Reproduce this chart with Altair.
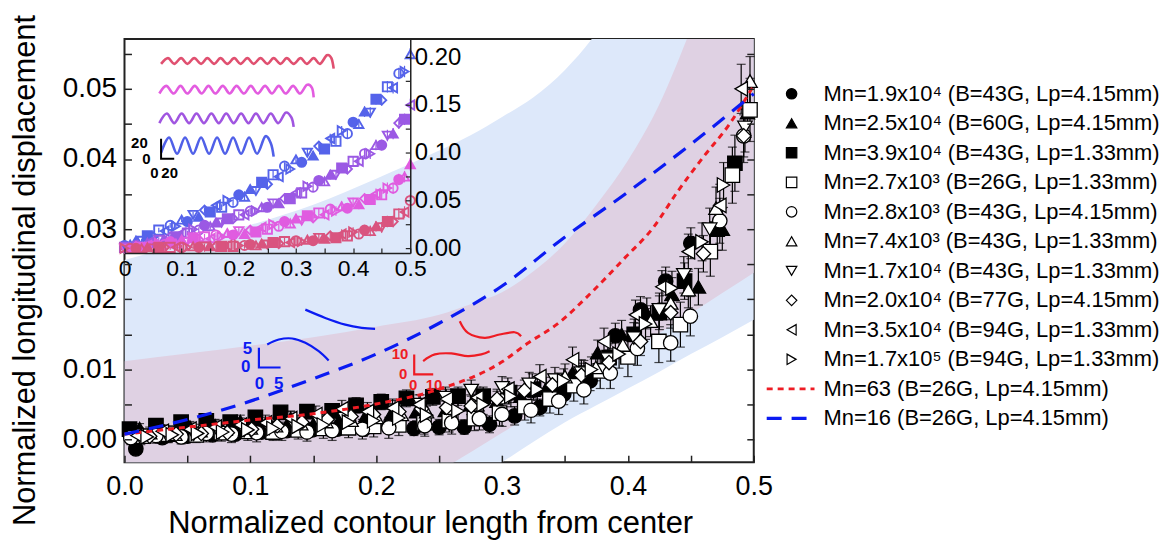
import altair as alt
import pandas as pd

FONT = "Liberation Sans"
RED = "#ee1c24"
BLUE = "#0b1bf2"
W, H = 632, 425
IW, IH = 287, 215

# ---------------- axes / ticks ----------------
x_tick_values = [0.0, 0.1, 0.2, 0.3, 0.4, 0.5]
y_tick_values = [0.00, 0.01, 0.02, 0.03, 0.04, 0.05]
x_minor_ticks = [0.0, 0.05, 0.1, 0.15, 0.2, 0.25, 0.3, 0.35, 0.4, 0.45, 0.5]
y_minor_ticks = [0.0, 0.005, 0.01, 0.015, 0.02, 0.025, 0.03, 0.035, 0.04, 0.045, 0.05, 0.055]
inset_x_ticks = [0.0, 0.1, 0.2, 0.3, 0.4, 0.5]
inset_x_minor = [0.0, 0.05, 0.1, 0.15, 0.2, 0.25, 0.3, 0.35, 0.4, 0.45, 0.5]
inset_y_ticks = [0.00, 0.05, 0.10, 0.15, 0.20]
inset_y_minor = [0.0, 0.025, 0.05, 0.075, 0.1, 0.125, 0.15, 0.175, 0.2]
X_DOMAIN = [0.0, 0.5]
Y_DOMAIN = [-0.0032, 0.0571]
INSET_X_DOMAIN = [0.0, 0.5]
INSET_Y_DOMAIN = [-0.005, 0.219]

# ---------------- series ----------------
series_labels = [
    "Mn=1.9x10\u2074 (B=43G, Lp=4.15mm)",
    "Mn=2.5x10\u2074 (B=60G, Lp=4.15mm)",
    "Mn=3.9x10\u2074 (B=43G, Lp=1.33mm)",
    "Mn=2.7x10\u00b3 (B=26G, Lp=1.33mm)",
    "Mn=2.8x10\u00b3 (B=43G, Lp=4.15mm)",
    "Mn=7.4x10\u00b3 (B=43G, Lp=1.33mm)",
    "Mn=1.7x10\u2074 (B=43G, Lp=1.33mm)",
    "Mn=2.0x10\u2074 (B=77G, Lp=4.15mm)",
    "Mn=3.5x10\u2074 (B=94G, Lp=1.33mm)",
    "Mn=1.7x10\u2075 (B=94G, Lp=1.33mm)",
]
line_labels = ["Mn=63 (B=26G, Lp=4.15mm)", "Mn=16 (B=26G, Lp=4.15mm)"]
series_shapes = ["circle", "triangle-up", "square", "square", "circle", "triangle-up",
                 "triangle-down", "diamond", "triangle-left", "triangle-right"]
series_filled = [True, True, True, False, False, False, False, False, False, False]

s1_x = [0.009, 0.030, 0.050, 0.070, 0.088, 0.109, 0.129, 0.149, 0.169, 0.190, 0.210, 0.230, 0.250, 0.270, 0.290, 0.310, 0.330, 0.349, 0.370, 0.390, 0.410, 0.430, 0.450]
s1_y = [-0.0013, 0.0003, 0.0005, 0.0007, 0.0008, 0.0011, 0.0013, 0.0014, 0.0015, 0.0015, 0.0018, 0.0016, 0.0018, 0.0018, 0.0022, 0.0034, 0.0046, 0.0065, 0.0084, 0.0148, 0.0185, 0.0226, 0.0280]
s1_e = [0.0006, 0.0006, 0.0007, 0.0008, 0.0006, 0.0008, 0.0007, 0.0009, 0.0008, 0.0010, 0.0009, 0.0010, 0.0011, 0.0010, 0.0012, 0.0013, 0.0012, 0.0015, 0.0014, 0.0018, 0.0019, 0.0020, 0.0022]

s2_x = [0.012, 0.032, 0.052, 0.072, 0.092, 0.112, 0.132, 0.152, 0.172, 0.192, 0.212, 0.232, 0.255, 0.275, 0.296, 0.315, 0.335, 0.356, 0.376, 0.395, 0.415, 0.435, 0.456, 0.475, 0.495]
s2_y = [0.0016, 0.0012, 0.0018, 0.0020, 0.0026, 0.0022, 0.0030, 0.0028, 0.0032, 0.0035, 0.0037, 0.0040, 0.0042, 0.0050, 0.0055, 0.0062, 0.0073, 0.0095, 0.0124, 0.0150, 0.0180, 0.0207, 0.0218, 0.0300, 0.0466]
s2_e = [0.0007, 0.0008, 0.0008, 0.0009, 0.0009, 0.0010, 0.0010, 0.0011, 0.0011, 0.0012, 0.0012, 0.0013, 0.0013, 0.0014, 0.0014, 0.0015, 0.0016, 0.0017, 0.0018, 0.0020, 0.0022, 0.0024, 0.0026, 0.0030, 0.0035]

s3_x = [0.004, 0.025, 0.045, 0.065, 0.084, 0.104, 0.124, 0.145, 0.165, 0.184, 0.204, 0.224, 0.245, 0.265, 0.285, 0.306, 0.325, 0.345, 0.365, 0.385, 0.405, 0.425, 0.445, 0.471, 0.485]
s3_y = [0.0015, 0.0020, 0.0025, 0.0027, 0.0025, 0.0032, 0.0039, 0.0040, 0.0041, 0.0049, 0.0054, 0.0059, 0.0061, 0.0062, 0.0062, 0.0067, 0.0072, 0.0079, 0.0095, 0.0117, 0.0150, 0.0181, 0.0226, 0.0300, 0.0394]
s3_e = [0.0006, 0.0007, 0.0007, 0.0008, 0.0008, 0.0009, 0.0009, 0.0010, 0.0010, 0.0011, 0.0011, 0.0012, 0.0012, 0.0013, 0.0013, 0.0014, 0.0015, 0.0016, 0.0018, 0.0020, 0.0022, 0.0024, 0.0026, 0.0030, 0.0040]

s4_x = [0.015, 0.035, 0.057, 0.077, 0.098, 0.118, 0.138, 0.158, 0.178, 0.198, 0.218, 0.238, 0.258, 0.278, 0.298, 0.318, 0.338, 0.357, 0.378, 0.400, 0.4246, 0.4417, 0.4655, 0.483, 0.497]
s4_y = [0.0005, 0.0008, 0.0007, 0.0010, 0.0012, 0.0011, 0.0014, 0.0016, 0.0017, 0.0019, 0.0021, 0.0024, 0.0027, 0.0030, 0.0038, 0.0047, 0.0058, 0.0077, 0.0098, 0.0118, 0.0140, 0.0164, 0.0268, 0.0377, 0.0470]
s4_e = [0.0010, 0.0012, 0.0011, 0.0012, 0.0013, 0.0012, 0.0013, 0.0014, 0.0014, 0.0015, 0.0015, 0.0016, 0.0016, 0.0017, 0.0018, 0.0019, 0.0020, 0.0022, 0.0025, 0.0028, 0.0030, 0.0032, 0.0035, 0.0040, 0.0045]

s5_x = [0.005, 0.025, 0.045, 0.065, 0.085, 0.105, 0.125, 0.145, 0.165, 0.189, 0.210, 0.2386, 0.260, 0.282, 0.300, 0.323, 0.345, 0.365, 0.386, 0.4075, 0.434, 0.4496, 0.473, 0.492]
s5_y = [0.0003, 0.0006, 0.0004, 0.0009, 0.0008, 0.0010, 0.0012, 0.0011, 0.0013, 0.0015, 0.0017, 0.0020, 0.0024, 0.0030, 0.0036, 0.0042, 0.0055, 0.0071, 0.0095, 0.0130, 0.0138, 0.0176, 0.0312, 0.0433]
s5_e = [0.0010, 0.0011, 0.0010, 0.0012, 0.0012, 0.0013, 0.0013, 0.0013, 0.0014, 0.0014, 0.0015, 0.0015, 0.0016, 0.0016, 0.0017, 0.0018, 0.0019, 0.0020, 0.0022, 0.0024, 0.0026, 0.0028, 0.0032, 0.0038]

s6_x = [0.020, 0.040, 0.060, 0.080, 0.100, 0.120, 0.140, 0.160, 0.180, 0.200, 0.220, 0.240, 0.260, 0.280, 0.300, 0.324, 0.350, 0.3745, 0.396, 0.418, 0.434, 0.448, 0.470, 0.497]
s6_y = [0.0010, 0.0008, 0.0013, 0.0015, 0.0017, 0.0020, 0.0023, 0.0026, 0.0028, 0.0032, 0.0036, 0.0040, 0.0045, 0.0050, 0.0060, 0.0077, 0.0090, 0.0103, 0.0135, 0.0169, 0.0195, 0.0214, 0.0330, 0.0511]
s6_e = [0.0008, 0.0009, 0.0009, 0.0010, 0.0010, 0.0011, 0.0011, 0.0012, 0.0012, 0.0013, 0.0013, 0.0014, 0.0014, 0.0015, 0.0016, 0.0017, 0.0018, 0.0019, 0.0020, 0.0022, 0.0024, 0.0026, 0.0030, 0.0035]

s7_x = [0.013, 0.034, 0.055, 0.075, 0.095, 0.115, 0.135, 0.155, 0.175, 0.195, 0.215, 0.235, 0.255, 0.2755, 0.300, 0.3216, 0.342, 0.363, 0.384, 0.4047, 0.425, 0.4444, 0.465, 0.493]
s7_y = [0.0002, 0.0005, 0.0008, 0.0010, 0.0013, 0.0016, 0.0020, 0.0024, 0.0030, 0.0035, 0.0042, 0.0050, 0.0060, 0.0070, 0.0074, 0.0079, 0.0085, 0.0095, 0.0115, 0.0145, 0.0185, 0.0235, 0.0300, 0.0445]
s7_e = [0.0009, 0.0009, 0.0010, 0.0010, 0.0011, 0.0011, 0.0012, 0.0012, 0.0013, 0.0013, 0.0014, 0.0014, 0.0015, 0.0015, 0.0016, 0.0017, 0.0018, 0.0019, 0.0020, 0.0022, 0.0024, 0.0026, 0.0030, 0.0035]

s8_x = [0.020, 0.041, 0.061, 0.0817, 0.101, 0.1213, 0.141, 0.161, 0.180, 0.1978, 0.218, 0.236, 0.256, 0.2755, 0.296, 0.3177, 0.340, 0.363, 0.385, 0.410, 0.434, 0.460, 0.492]
s8_y = [0.0005, 0.0008, 0.0009, 0.0010, 0.0015, 0.0020, 0.0025, 0.0029, 0.0033, 0.0036, 0.0040, 0.0044, 0.0046, 0.0048, 0.0058, 0.0070, 0.0078, 0.0092, 0.0110, 0.0140, 0.0181, 0.0265, 0.0433]
s8_e = [0.0007, 0.0008, 0.0008, 0.0009, 0.0009, 0.0010, 0.0010, 0.0011, 0.0011, 0.0012, 0.0012, 0.0013, 0.0013, 0.0014, 0.0014, 0.0015, 0.0016, 0.0017, 0.0018, 0.0020, 0.0022, 0.0026, 0.0030]

s9_x = [0.010, 0.030, 0.052, 0.072, 0.092, 0.112, 0.132, 0.152, 0.1727, 0.193, 0.213, 0.234, 0.2557, 0.280, 0.3046, 0.330, 0.356, 0.381, 0.406, 0.427, 0.448, 0.473, 0.490]
s9_y = [0.0006, 0.0012, 0.0015, 0.0018, 0.0021, 0.0024, 0.0030, 0.0036, 0.0044, 0.0040, 0.0045, 0.0050, 0.0058, 0.0060, 0.0072, 0.0090, 0.0114, 0.0140, 0.0178, 0.0218, 0.0268, 0.0334, 0.0500]
s9_e = [0.0008, 0.0009, 0.0009, 0.0010, 0.0010, 0.0011, 0.0011, 0.0012, 0.0012, 0.0013, 0.0013, 0.0014, 0.0014, 0.0015, 0.0016, 0.0017, 0.0018, 0.0019, 0.0021, 0.0023, 0.0025, 0.0030, 0.0035]

s10_x = [0.018, 0.038, 0.058, 0.078, 0.098, 0.118, 0.138, 0.158, 0.178, 0.198, 0.218, 0.240, 0.265, 0.285, 0.307, 0.328, 0.349, 0.371, 0.393, 0.414, 0.435, 0.4589, 0.476]
s10_y = [0.0004, 0.0007, 0.0009, 0.0011, 0.0014, 0.0016, 0.0019, 0.0021, 0.0025, 0.0027, 0.0031, 0.0035, 0.0041, 0.0050, 0.0062, 0.0072, 0.0084, 0.0100, 0.0122, 0.0165, 0.0216, 0.0282, 0.0363]
s10_e = [0.0007, 0.0008, 0.0008, 0.0009, 0.0009, 0.0010, 0.0010, 0.0011, 0.0011, 0.0012, 0.0012, 0.0013, 0.0013, 0.0014, 0.0015, 0.0016, 0.0017, 0.0018, 0.0020, 0.0022, 0.0024, 0.0027, 0.0032]

# theory curves
mn63_x = [0.0, 0.05, 0.1, 0.15, 0.2, 0.25, 0.3, 0.32, 0.344, 0.37, 0.397, 0.42, 0.44, 0.46, 0.48, 0.5]
mn63_y = [0.0008, 0.0018, 0.0028, 0.0037, 0.0051, 0.0072, 0.0111, 0.0137, 0.0165, 0.0208, 0.0258, 0.0302, 0.0355, 0.0403, 0.0448, 0.0505]
mn16_x = [0.0, 0.03, 0.075, 0.1, 0.15, 0.2, 0.25, 0.3, 0.35, 0.4, 0.45, 0.5]
mn16_y = [0.0008, 0.0020, 0.0041, 0.0055, 0.0087, 0.0122, 0.0166, 0.0219, 0.0289, 0.0353, 0.0421, 0.0493]

# shaded bands
band_x = [0.0, 0.05, 0.1, 0.15, 0.2, 0.25, 0.275, 0.3, 0.325, 0.35, 0.375, 0.4, 0.425, 0.45, 0.475, 0.5]
blue_upper = [0.0256, 0.0281, 0.0306, 0.0335, 0.0372, 0.0412, 0.0434, 0.0460, 0.0488, 0.0527, 0.0580, 0.065, 0.073, 0.082, 0.092, 0.100]
blue_lower = [-0.035, -0.030, -0.025, -0.020, -0.015, -0.009, -0.006, -0.0032, -0.0003, 0.0025, 0.0049, 0.0073, 0.0097, 0.0122, 0.0146, 0.0171]
pink_upper = [0.0112, 0.0123, 0.0134, 0.0146, 0.0161, 0.0178, 0.0193, 0.0210, 0.0240, 0.0280, 0.0335, 0.0398, 0.0478, 0.0585, 0.070, 0.085]
pink_lower = [-0.030, -0.026, -0.021, -0.016, -0.010, -0.0045, -0.0018, 0.0010, 0.0037, 0.0065, 0.0094, 0.0123, 0.0152, 0.0180, 0.0209, 0.0238]

# conformation sketches in the main panel
blueA_x = [0.1437, 0.1595, 0.1754, 0.1885, 0.1991]
blueA_y = [0.01854, 0.01736, 0.01641, 0.01594, 0.01580]
blueB_x = [0.1134, 0.1226, 0.1332, 0.1437, 0.1543, 0.1622]
blueB_y = [0.01357, 0.01428, 0.01443, 0.01382, 0.01262, 0.01130]
redA_x = [0.2664, 0.2729, 0.2861, 0.2980, 0.3099, 0.3151]
redA_y = [0.01688, 0.01523, 0.01452, 0.01499, 0.01532, 0.01475]
redB_x = [0.2373, 0.2466, 0.2597, 0.2729, 0.2835, 0.2901]
redB_y = [0.01121, 0.01216, 0.01230, 0.01191, 0.01216, 0.01262]
bluebar_x = [0.1068, 0.1068, 0.1240]
bluebar_y = [0.01312, 0.01029, 0.01029]
redbar_x = [0.2302, 0.2302, 0.2453]
redbar_y = [0.01216, 0.00932, 0.00932]
ann_text = ["5", "0", "0", "5", "10", "0", "0", "10"]
ann_x = [0.0976, 0.0963, 0.1073, 0.1226, 0.2189, 0.2215, 0.2294, 0.2460]
ann_y = [0.01287, 0.0104, 0.0080, 0.0080, 0.01216, 0.00932, 0.00776, 0.00776]
ann_col = [BLUE, BLUE, BLUE, BLUE, RED, RED, RED, RED]

# ---------------- inset data ----------------
inset_colors = ["#5563ea", "#9b59e4", "#e05ce0", "#d9547f"]
inset_xa = [0.00, 0.02, 0.04, 0.06, 0.08, 0.10, 0.12, 0.14, 0.16, 0.18, 0.20, 0.22, 0.24, 0.26, 0.28, 0.30, 0.32, 0.34, 0.36, 0.38, 0.40, 0.42, 0.44, 0.46, 0.48, 0.50]
inset_xb = [0.01, 0.03, 0.05, 0.07, 0.09, 0.11, 0.13, 0.15, 0.17, 0.19, 0.21, 0.23, 0.25, 0.27, 0.29, 0.31, 0.33, 0.35, 0.37, 0.39, 0.41, 0.43, 0.45, 0.47, 0.49]
blue_a = [0.003, 0.008, 0.013, 0.019, 0.024, 0.030, 0.035, 0.040, 0.045, 0.050, 0.056, 0.062, 0.069, 0.077, 0.086, 0.093, 0.100, 0.107, 0.115, 0.123, 0.132, 0.143, 0.156, 0.169, 0.183, 0.203]
blue_b = [0.004, 0.008, 0.012, 0.018, 0.023, 0.028, 0.033, 0.038, 0.043, 0.048, 0.054, 0.060, 0.067, 0.075, 0.083, 0.090, 0.097, 0.104, 0.112, 0.120, 0.130, 0.142, 0.155, 0.168, 0.185]
purple_a = [0.001, 0.003, 0.006, 0.009, 0.012, 0.016, 0.020, 0.024, 0.027, 0.031, 0.035, 0.039, 0.043, 0.047, 0.052, 0.058, 0.065, 0.071, 0.077, 0.084, 0.091, 0.099, 0.108, 0.118, 0.131, 0.150]
purple_b = [0.001, 0.003, 0.006, 0.009, 0.012, 0.016, 0.019, 0.023, 0.027, 0.031, 0.035, 0.039, 0.043, 0.047, 0.052, 0.058, 0.064, 0.070, 0.077, 0.083, 0.091, 0.099, 0.108, 0.120, 0.135]
magenta_a = [0.000, 0.002, 0.003, 0.005, 0.007, 0.009, 0.011, 0.012, 0.014, 0.016, 0.018, 0.019, 0.022, 0.025, 0.028, 0.031, 0.034, 0.037, 0.041, 0.044, 0.048, 0.052, 0.057, 0.063, 0.072, 0.088]
magenta_b = [0.000, 0.001, 0.002, 0.004, 0.005, 0.007, 0.009, 0.010, 0.012, 0.014, 0.015, 0.017, 0.020, 0.023, 0.026, 0.029, 0.032, 0.035, 0.039, 0.042, 0.046, 0.051, 0.056, 0.063, 0.075]
rose_a = [0.000, 0.000, 0.001, 0.001, 0.001, 0.001, 0.002, 0.002, 0.002, 0.003, 0.003, 0.004, 0.005, 0.006, 0.007, 0.008, 0.009, 0.011, 0.013, 0.015, 0.017, 0.019, 0.023, 0.028, 0.036, 0.050]
rose_b = [0.000, 0.000, 0.000, 0.001, 0.001, 0.001, 0.001, 0.002, 0.002, 0.002, 0.003, 0.003, 0.004, 0.005, 0.006, 0.007, 0.008, 0.010, 0.011, 0.013, 0.015, 0.018, 0.022, 0.028, 0.038]
inset_err = [0.003, 0.004, 0.004, 0.005, 0.005, 0.005, 0.006, 0.006, 0.006, 0.007, 0.007, 0.007, 0.008, 0.008, 0.008, 0.009, 0.009, 0.009, 0.010, 0.010, 0.010, 0.011, 0.011, 0.012, 0.012, 0.013]

snake_blue_x = [0.064, 0.078, 0.092, 0.106, 0.120, 0.134, 0.148, 0.162, 0.176, 0.190, 0.204, 0.218, 0.232, 0.246, 0.256, 0.261]
snake_blue_y = [0.100, 0.116, 0.099, 0.116, 0.099, 0.116, 0.099, 0.116, 0.099, 0.116, 0.099, 0.116, 0.099, 0.117, 0.110, 0.096]
snake_purple_x = [0.061, 0.074, 0.087, 0.100, 0.113, 0.126, 0.139, 0.152, 0.165, 0.178, 0.191, 0.204, 0.217, 0.230, 0.243, 0.256, 0.269, 0.282, 0.292, 0.296]
snake_purple_y = [0.131, 0.141, 0.131, 0.141, 0.131, 0.141, 0.131, 0.141, 0.131, 0.141, 0.131, 0.141, 0.131, 0.141, 0.131, 0.141, 0.131, 0.142, 0.137, 0.127]
snake_magenta_x = [0.061, 0.073, 0.086, 0.098, 0.110, 0.123, 0.135, 0.147, 0.159, 0.172, 0.184, 0.196, 0.209, 0.221, 0.233, 0.246, 0.258, 0.270, 0.282, 0.295, 0.307, 0.319, 0.328, 0.331]
snake_magenta_y = [0.162, 0.170, 0.162, 0.170, 0.162, 0.170, 0.162, 0.170, 0.162, 0.170, 0.162, 0.170, 0.162, 0.170, 0.162, 0.170, 0.162, 0.170, 0.162, 0.170, 0.162, 0.171, 0.168, 0.158]
snake_rose_x = [0.064, 0.076, 0.087, 0.099, 0.110, 0.122, 0.134, 0.145, 0.157, 0.168, 0.180, 0.192, 0.203, 0.215, 0.226, 0.238, 0.250, 0.261, 0.273, 0.284, 0.296, 0.308, 0.319, 0.331, 0.342, 0.354, 0.362, 0.366]
snake_rose_y = [0.193, 0.199, 0.193, 0.199, 0.193, 0.199, 0.193, 0.199, 0.193, 0.199, 0.193, 0.199, 0.193, 0.199, 0.193, 0.199, 0.193, 0.199, 0.193, 0.199, 0.193, 0.199, 0.193, 0.199, 0.193, 0.202, 0.199, 0.188]
snake_colors = ["#5060e8", "#a055e0", "#e35ce0", "#e05070"]
inset_bar_x = [0.064, 0.064, 0.087]
inset_bar_y = [0.1146, 0.0938, 0.0938]
inset_text = ["20", "0", "0", "20"]
inset_text_x = [0.0261, 0.0383, 0.0523, 0.0790]
inset_text_y = [0.1107, 0.0938, 0.0786, 0.0786]

legend_rows = [0, 1, 2, 3, 4, 5, 6, 7, 8, 9, 10, 11]

# ---------------- build tables ----------------
def check(*arrs):
    n = len(arrs[0])
    for a in arrs:
        if len(a) != n:
            raise ValueError(f"length mismatch {[len(b) for b in arrs]}")

sx = [s1_x, s2_x, s3_x, s4_x, s5_x, s6_x, s7_x, s8_x, s9_x, s10_x]
sy = [s1_y, s2_y, s3_y, s4_y, s5_y, s6_y, s7_y, s8_y, s9_y, s10_y]
se = [s1_e, s2_e, s3_e, s4_e, s5_e, s6_e, s7_e, s8_e, s9_e, s10_e]
frames = []
for i in range(10):
    check(sx[i], sy[i], se[i])
    frames.append(pd.DataFrame({
        "x": sx[i], "y": sy[i], "e": se[i],
        "series": series_labels[i], "shape": series_shapes[i],
        "fillc": "black" if series_filled[i] else "white",
    }))
main_df = pd.concat(frames, ignore_index=True)
main_df["lo"] = main_df["y"] - main_df["e"]
main_df["hi"] = main_df["y"] + main_df["e"]

check(band_x, blue_upper, blue_lower, pink_upper, pink_lower)
band_df = pd.DataFrame({"x": band_x, "bu": blue_upper, "bl": blue_lower, "pu": pink_upper, "pl": pink_lower})
check(mn63_x, mn63_y); check(mn16_x, mn16_y)
l63_df = pd.DataFrame({"x": mn63_x, "y": mn63_y})
l16_df = pd.DataFrame({"x": mn16_x, "y": mn16_y})

def path_frame(items):
    fr = []
    for name, col, xs_, ys_ in items:
        check(xs_, ys_)
        fr.append(pd.DataFrame({"x": xs_, "y": ys_, "grp": name, "col": col, "i": list(range(len(xs_)))}))
    return pd.concat(fr, ignore_index=True)

curves_df = path_frame([("bA", BLUE, blueA_x, blueA_y), ("bB", BLUE, blueB_x, blueB_y),
                        ("rA", RED, redA_x, redA_y), ("rB", RED, redB_x, redB_y)])
bars_df = path_frame([("bS", BLUE, bluebar_x, bluebar_y), ("rS", RED, redbar_x, redbar_y)])
check(ann_text, ann_x, ann_y, ann_col)
ann_df = pd.DataFrame({"t": ann_text, "x": ann_x, "y": ann_y, "col": ann_col,
                       "fs": [17 if c == BLUE else 15 for c in ann_col]})

ins_fr = []
for k, (ya, yb) in enumerate([(blue_a, blue_b), (purple_a, purple_b), (magenta_a, magenta_b), (rose_a, rose_b)]):
    check(inset_xa, ya, inset_err); check(inset_xb, yb)
    for m, (xs_, ys_) in enumerate([(inset_xa, ya), (inset_xb, yb)]):
        shp = [series_shapes[(j + 3 * k + 5 * m) % 10] for j in range(len(xs_))]
        fil = [inset_colors[k] if series_filled[(j + 3 * k + 5 * m) % 10] else "transparent" for j in range(len(xs_))]
        ins_fr.append(pd.DataFrame({"x": xs_, "y": ys_, "e": inset_err[:len(xs_)], "col": inset_colors[k],
                                    "shape": shp, "fillc": fil}))
inset_df = pd.concat(ins_fr, ignore_index=True)
inset_df["lo"] = inset_df["y"] - inset_df["e"] * 0.5
inset_df["hi"] = inset_df["y"] + inset_df["e"] * 0.5
snakes_df = path_frame([("s0", snake_colors[0], snake_blue_x, snake_blue_y),
                        ("s1", snake_colors[1], snake_purple_x, snake_purple_y),
                        ("s2", snake_colors[2], snake_magenta_x, snake_magenta_y),
                        ("s3", snake_colors[3], snake_rose_x, snake_rose_y)])
ibar_df = path_frame([("ib", "black", inset_bar_x, inset_bar_y)])
check(inset_text, inset_text_x, inset_text_y)
itext_df = pd.DataFrame({"t": inset_text, "x": inset_text_x, "y": inset_text_y})

leg_df = pd.DataFrame({"row": legend_rows[:10], "label": series_labels, "shape": series_shapes,
                       "fillc": ["black" if f else "white" for f in series_filled]})
legtxt_df = pd.DataFrame({"row": legend_rows, "label": series_labels + line_labels})

# ---------------- main panel ----------------
xs = alt.Scale(domain=X_DOMAIN, nice=False, zero=False)
ys = alt.Scale(domain=Y_DOMAIN, nice=False, zero=False)
x_axis = alt.Axis(values=x_tick_values, format=".1f", labelFontSize=27, title="Normalized contour length from center",
                  titleFontSize=31, ticks=False, tickSize=0, domain=False, grid=False, labelPadding=11,
                  labelFlush=False, labelOverlap=False, titleX=307, titleY=71, titleBaseline="alphabetic",
                  titleAlign="center", titleAnchor="start")
y_axis = alt.Axis(values=y_tick_values, format=".2f", labelFontSize=28, title="Normalized longitudinal displacement",
                  titleFontSize=31, ticks=False, tickSize=0, domain=False, grid=False, labelPadding=8,
                  labelFlush=False, labelOverlap=False, titleX=-83, titleY=232, titleBaseline="bottom",
                  titleAlign="center", titleAngle=-90)

def MX(f):
    return alt.X(f, type="quantitative", scale=xs, axis=x_axis)

def MY(f):
    return alt.Y(f, type="quantitative", scale=ys, axis=y_axis)

blue_band = alt.Chart(band_df).mark_area(color="#dde8fa", clip=True, interpolate="monotone").encode(
    x=MX("x"), y=MY("bl"), y2="bu")
pink_band = alt.Chart(band_df).mark_area(color="#dfd1e3", clip=True, interpolate="monotone").encode(
    x=MX("x"), y=MY("pl"), y2="pu")
err = alt.Chart(main_df).mark_rule(color="black", strokeWidth=1.2).encode(x=MX("x"), y=MY("lo"), y2="hi")
cap_lo = alt.Chart(main_df).mark_tick(orient="horizontal", size=9, thickness=1.2, color="black").encode(x=MX("x"), y=MY("lo"))
cap_hi = alt.Chart(main_df).mark_tick(orient="horizontal", size=9, thickness=1.2, color="black").encode(x=MX("x"), y=MY("hi"))
pts = alt.Chart(main_df).mark_point(filled=True, size=210, stroke="black", strokeWidth=1.3, opacity=1).encode(
    x=MX("x"), y=MY("y"), shape=alt.Shape("shape:N", scale=None), fill=alt.Fill("fillc:N", scale=None))
line63 = alt.Chart(l63_df).mark_line(color=RED, strokeWidth=3, strokeDash=[6, 5], interpolate="monotone").encode(
    x=MX("x"), y=MY("y"))
line16 = alt.Chart(l16_df).mark_line(color=BLUE, strokeWidth=3.2, strokeDash=[15, 10], interpolate="monotone").encode(
    x=MX("x"), y=MY("y"))
curves = alt.Chart(curves_df).mark_line(strokeWidth=2.2, interpolate="cardinal").encode(
    x=MX("x"), y=MY("y"), detail="grp:N", color=alt.Color("col:N", scale=None), order="i:Q")
bars = alt.Chart(bars_df).mark_line(strokeWidth=2.2).encode(
    x=MX("x"), y=MY("y"), detail="grp:N", color=alt.Color("col:N", scale=None), order="i:Q")
ann = alt.Chart(ann_df).mark_text(font=FONT, fontWeight="bold", baseline="middle", align="center").encode(
    x=MX("x"), y=MY("y"), text="t:N", color=alt.Color("col:N", scale=None), size=alt.Size("fs:Q", scale=None))

main = alt.layer(blue_band, pink_band, err, cap_lo, cap_hi, pts, line63, line16, curves, bars, ann)

# inward ticks of the main frame
tick_df = pd.DataFrame({"x": [0.25], "y": [0.02]})
ticks_lb = alt.Chart(tick_df).mark_point(opacity=0).encode(
    x=alt.X("x:Q", scale=alt.Scale(domain=X_DOMAIN, nice=False, zero=False),
            axis=alt.Axis(orient="top", offset=-H, values=x_minor_ticks, labels=False, domain=False, grid=False,
                          tickSize=7, tickWidth=1.5, tickColor="#222", title=None, zindex=2)),
    y=alt.Y("y:Q", scale=alt.Scale(domain=Y_DOMAIN, nice=False, zero=False),
            axis=alt.Axis(orient="right", offset=-W, values=y_minor_ticks, labels=False, domain=False, grid=False,
                          tickSize=7, tickWidth=1.5, tickColor="#222", title=None, zindex=2)))
ticks_r = alt.Chart(tick_df).mark_point(opacity=0).encode(
    y=alt.Y("y:Q", scale=alt.Scale(domain=Y_DOMAIN, nice=False, zero=False),
            axis=alt.Axis(orient="left", offset=-W, values=y_minor_ticks, labels=False, domain=False, grid=False,
                          tickSize=7, tickWidth=1.5, tickColor="#222", title=None, zindex=2)))

# ---------------- inset ----------------
isx = alt.Scale(domain=INSET_X_DOMAIN, range=[0, IW], nice=False, zero=False)
isy = alt.Scale(domain=INSET_Y_DOMAIN, range=[IH, 0], nice=False, zero=False)
ix_axis = alt.Axis(orient="bottom", offset=-(H - IH), values=inset_x_ticks,
                   labelExpr="datum.value == 0 ? '0' : format(datum.value, '.1f')",
                   labelFontSize=23, ticks=False, tickSize=0, domainColor="#222", domainWidth=1.5, grid=False,
                   title=None, labelPadding=5, labelFlush=False, labelOverlap=False, zindex=2)
iy_axis = alt.Axis(orient="right", offset=-(W - IW), values=inset_y_ticks, format=".2f", labelFontSize=24,
                   ticks=False, tickSize=0, domainColor="#222", domainWidth=1.5, grid=False, title=None,
                   labelPadding=4, labelFlush=False, labelOverlap=False, zindex=2)

def IX(f):
    return alt.X(f, type="quantitative", scale=isx, axis=ix_axis)

def IY(f):
    return alt.Y(f, type="quantitative", scale=isy, axis=iy_axis)

ierr = alt.Chart(inset_df).mark_rule(strokeWidth=1.2).encode(
    x=IX("x"), y=IY("lo"), y2="hi", color=alt.Color("col:N", scale=None))
ipts = alt.Chart(inset_df).mark_point(filled=True, size=85, strokeWidth=1.9, opacity=1).encode(
    x=IX("x"), y=IY("y"), shape=alt.Shape("shape:N", scale=None),
    stroke=alt.Stroke("col:N", scale=None), fill=alt.Fill("fillc:N", scale=None))
isnakes = alt.Chart(snakes_df).mark_line(strokeWidth=2.6, interpolate="cardinal").encode(
    x=IX("x"), y=IY("y"), detail="grp:N", color=alt.Color("col:N", scale=None), order="i:Q")
ibar = alt.Chart(ibar_df).mark_line(strokeWidth=2, color="black").encode(x=IX("x"), y=IY("y"), order="i:Q")
itext = alt.Chart(itext_df).mark_text(font=FONT, fontWeight="bold", fontSize=15, color="black",
                                      baseline="middle", align="center").encode(x=IX("x"), y=IY("y"), text="t:N")
inset = alt.layer(ierr, ipts, isnakes, ibar, itext)

iticks = alt.Chart(pd.DataFrame({"x": [0.25], "y": [0.1]})).mark_point(opacity=0).encode(
    x=alt.X("x:Q", scale=alt.Scale(domain=INSET_X_DOMAIN, range=[0, IW], nice=False, zero=False),
            axis=alt.Axis(orient="top", offset=-IH, values=inset_x_minor, labels=False, domain=False, grid=False,
                          tickSize=5, tickWidth=1.2, tickColor="#222", title=None, zindex=2)),
    y=alt.Y("y:Q", scale=alt.Scale(domain=INSET_Y_DOMAIN, range=[IH, 0], nice=False, zero=False),
            axis=alt.Axis(orient="left", offset=-IW, values=inset_y_minor, labels=False, domain=False, grid=False,
                          tickSize=5, tickWidth=1.2, tickColor="#222", title=None, zindex=2)))

# ---------------- legend ----------------
leg_y = alt.Y("row:Q", scale=alt.Scale(domain=[0, 11], range=[55, 381]), axis=None)
leg_pts = alt.Chart(leg_df).mark_point(filled=True, size=110, stroke="black", strokeWidth=1.2, opacity=1).encode(
    x=alt.value(670), y=leg_y, shape=alt.Shape("shape:N", scale=None), fill=alt.Fill("fillc:N", scale=None))
leg_txt = alt.Chart(legtxt_df).mark_text(align="left", baseline="middle", fontSize=22, font=FONT, color="black").encode(
    x=alt.value(702), y=leg_y, text="label:N")
leg_red = alt.Chart(pd.DataFrame({"row": [legend_rows[10]]})).mark_rule(color=RED, strokeWidth=3, strokeDash=[6, 5]).encode(
    x=alt.value(645), x2=alt.value(693), y=leg_y)
leg_blue = alt.Chart(pd.DataFrame({"row": [legend_rows[11]]})).mark_rule(color=BLUE, strokeWidth=3.2, strokeDash=[15, 10]).encode(
    x=alt.value(645), x2=alt.value(693), y=leg_y)
legend = alt.layer(leg_pts, leg_txt, leg_red, leg_blue)

chart = alt.layer(main, ticks_lb, ticks_r, inset, iticks, legend).resolve_scale(
    x="independent", y="independent"
).properties(
    width=W, height=H,
    autosize=alt.AutoSizeParams(type="none"),
    padding={"left": 117, "top": 30, "right": 410, "bottom": 80},
).configure_view(
    stroke="#222", strokeWidth=2
).configure_axis(
    labelFont=FONT, titleFont=FONT, labelColor="black", titleColor="black", titleFontWeight="normal",
    domainColor="#222", tickColor="#222"
)

chart.save("out.html", embed_options={"renderer": "svg", "actions": False})
